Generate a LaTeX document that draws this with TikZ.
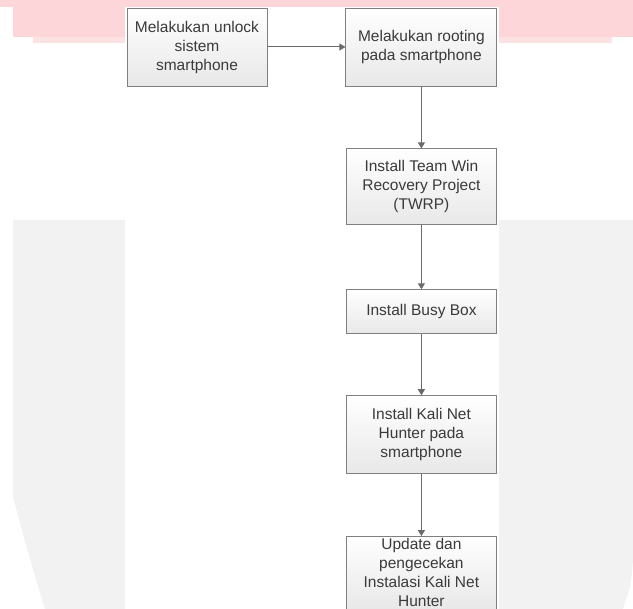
\documentclass[tikz,border=0pt]{standalone}
\usepackage{fontspec}
\setmainfont{Liberation Sans}
\usetikzlibrary{positioning,arrows.meta}
\definecolor{cPink} {RGB}{252,214,216}
\definecolor{cPinkL}{RGB}{253,226,228}
\definecolor{cGrey} {RGB}{242,242,242}
\definecolor{cText} {RGB}{ 58, 58, 58}
\definecolor{cEdge} {RGB}{128,128,128}
\tikzset{
  stepbox/.style = {draw=cEdge, line width=0.9pt, top color=white,
                    bottom color=black!9, minimum width=150pt,
                    minimum height=78pt, inner sep=2pt, align=center,
                    text=cText, font=\fontsize{15.5}{19}\selectfont},
  flow/.style    = {-{Triangle[length=6pt,width=7pt]}, draw=black!58,
                    line width=1pt},
}
\begin{document}
\begin{tikzpicture}
  \useasboundingbox (0,0) rectangle (633pt,-609pt);

  %% ---------------- page behind the chart ---------------------------
  \fill[cPink]  (0,0) rectangle (633pt,-7pt);
  \fill[cPink]  (13pt,-7pt) rectangle (633pt,-37pt);
  \fill[cPinkL] (33pt,-37pt) rectangle (612pt,-43pt);
  \fill[cGrey]  (13pt,-220pt) -- (633pt,-220pt) -- (633pt,-560pt)
                .. controls (631pt,-585pt) .. (623pt,-609pt)
                -- (45pt,-609pt) .. controls (30pt,-560pt) .. (13pt,-497pt)
                -- cycle;
  \fill[white]  (125pt,-7pt) rectangle (499pt,-609pt);

  %% ---------------- steps -------------------------------------------
  \node[stepbox, minimum width=140pt] (unlock) at (197pt,-47pt)
       {Melakukan unlock\\sistem\\smartphone};
  \node[stepbox, minimum width=151pt] (rooting) [right=78pt of unlock]
       {Melakukan rooting\\pada smartphone};
  \node[stepbox, minimum height=76pt] (twrp) [below=62pt of rooting]
       {Install Team Win\\Recovery Project\\(TWRP)};
  \node[stepbox, minimum height=44pt] (busybox) [below=64pt of twrp]
       {Install Busy Box};
  \node[stepbox] (nethunter) [below=61pt of busybox]
       {Install Kali Net\\Hunter pada\\smartphone};
  \node[stepbox, minimum height=72pt] (update) [below=62pt of nethunter]
       {Update dan\\pengecekan\\Instalasi Kali Net\\Hunter};

  %% ---------------- connectors --------------------------------------
  \draw[flow] (unlock) -- (rooting);
  \draw[flow] (rooting) -- (twrp);
  \draw[flow] (twrp) -- (busybox);
  \draw[flow] (busybox) -- (nethunter);
  \draw[flow] (nethunter) -- (update);
\end{tikzpicture}
\end{document}
